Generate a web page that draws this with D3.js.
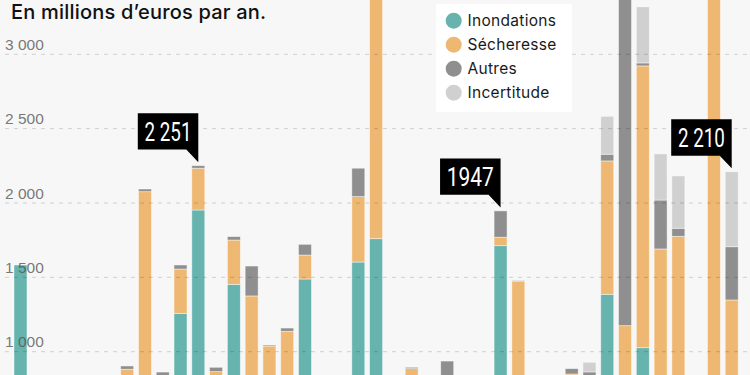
<!DOCTYPE html>
<html>
<head>
<meta charset="utf-8">
<script src="https://cdn.jsdelivr.net/npm/d3@7"></script>
<style>
  body { margin: 0; background: #f7f7f7; }
  svg { display: block; }
</style>
</head>
<body>
<div id="chart"></div>
<script>
// années 1983 -> 2023
var years = d3.range(1983, 2024);

// coût annuel par type de sinistre (millions d'euros)
var inondations = [1583, 260, 180, 320, 420, 610, 120, 150, 300, 1258, 1953, 400, 1453, 300, 250, 380, 1489, 520, 600, 1603,
                   1760, 350, 250, 300, 450, 480, 300, 1713, 200, 450, 650, 500, 400, 1386, 250, 1027, 200, 300, 500, 150, 200];
var secheresse  = [0, 0, 0, 0, 0, 0, 762, 1926, 480, 298, 281, 466, 298, 1075, 788, 757, 161, 90, 60, 440,
                   2100, 300, 636, 350, 200, 120, 250, 57, 1275, 250, 80, 350, 400, 897, 925, 1895, 1491, 1476, 200, 3500, 1148];
var autres      = [0, 20, 40, 30, 60, 40, 22, 18, 83, 27, 17, 29, 23, 201, 7, 22, 72, 60, 40, 191,
                   0, 50, 9, 40, 287, 60, 200, 177, 3, 40, 60, 36, 64, 45, 2600, 20, 329, 54, 60, 100, 358];
var incertitude = [0, 0, 0, 0, 0, 0, 0, 0, 0, 0, 0, 0, 0, 0, 0, 0, 0, 0, 0, 0,
                   0, 0, 0, 0, 0, 0, 0, 0, 0, 0, 0, 0, 65, 255, 0, 377, 310, 352, 50, 400, 504];

var keys = ["Inondations", "Sécheresse", "Autres", "Incertitude"];
var colours = ["#67b4ae", "#efb872", "#8f8f8f", "#d0d0d0"];
// seules les graduations visibles dans le cadre
var yTicks = [1000, 1500, 2000, 2500, 3000];

// étiquettes noires au-dessus de certaines barres
var annoYears = [1993, 2010, 2023];
var annoLabels = ["2 251", "1947", "2 210"];

var width = 750;
var height = 375;

var data = years.map(function(y, i) {
    return {
        year: y,
        "Inondations": inondations[i],
        "Sécheresse": secheresse[i],
        "Autres": autres[i],
        "Incertitude": incertitude[i]
    };
});

var svg = d3.select("#chart")
    .append("svg")
    .attr("width", width)
    .attr("height", height);

svg.append("rect")
    .attr("width", width)
    .attr("height", height)
    .attr("fill", "#f7f7f7");

var x = d3.scaleBand()
    .domain(years)
    .range([14, 738.2])
    .paddingInner(0.27)
    .paddingOuter(0);

// le zéro tombe sous le bas de l'image : le graphique est rogné
var y = d3.scaleLinear()
    .domain([0, 3000])
    .range([500.4, 54.3]);

var colour = d3.scaleOrdinal()
    .domain(keys)
    .range(colours);

var stacked = d3.stack().keys(keys)(data);

var layer = svg.selectAll(".layer")
    .data(stacked)
    .enter().append("g")
    .attr("class", "layer")
    .attr("fill", function(d) { return colour(d.key); });

layer.selectAll("rect")
    .data(function(d) { return d.filter(function(p) { return p[1] > p[0]; }); })
    .enter().append("rect")
    .attr("x", function(d) { return x(d.data.year); })
    .attr("y", function(d) { return y(d[1]); })
    .attr("width", x.bandwidth())
    .attr("height", function(d) { return y(d[0]) - y(d[1]); })
    .attr("stroke", "#ffffff")
    .attr("stroke-opacity", 0.55)
    .attr("stroke-width", 0.8);

// grille pointillée, par-dessus les barres
var grid = svg.append("g").attr("class", "grid");

grid.selectAll("line")
    .data(yTicks)
    .enter().append("line")
    .attr("x1", 5)
    .attr("x2", width)
    .attr("y1", function(d) { return y(d); })
    .attr("y2", function(d) { return y(d); })
    .attr("stroke", "#000")
    .attr("stroke-opacity", 0.16)
    .attr("stroke-dasharray", "4,5");

grid.selectAll("text")
    .data(yTicks)
    .enter().append("text")
    .attr("x", 5)
    .attr("y", function(d) { return y(d) - 4.5; })
    .attr("fill", "#555")
    .attr("fill-opacity", 0.8)
    .style("font-family", "'Liberation Sans', Arial, sans-serif")
    .style("font-size", "15.5px")
    .text(function(d) { return d3.format(",")(d).replace(/,/g, " "); });

// titre
svg.append("text")
    .attr("x", 11)
    .attr("y", 19)
    .attr("fill", "#111")
    .style("font-family", "Inter, sans-serif")
    .style("font-size", "20px")
    .style("font-weight", 500)
    .style("letter-spacing", "0.2px")
    .text("En millions d’euros par an.");

// légende
var legendBox = svg.append("g").attr("transform", "translate(436,4)");

legendBox.append("rect")
    .attr("width", 136)
    .attr("height", 108)
    .attr("fill", "#ffffff");

var legend = legendBox.selectAll(".legend")
    .data(keys)
    .enter().append("g")
    .attr("class", "legend")
    .attr("transform", function(d, i) { return "translate(0," + (16.7 + i * 24) + ")"; });

legend.append("circle")
    .attr("cx", 17.7)
    .attr("cy", 0)
    .attr("r", 8)
    .attr("fill", function(d) { return colour(d); });

legend.append("text")
    .attr("x", 31.5)
    .attr("y", 5.5)
    .attr("fill", "#1a1a1a")
    .style("font-family", "Inter, sans-serif")
    .style("font-size", "15.5px")
    .style("letter-spacing", "0.3px")
    .text(function(d) { return d; });

// bulles d'annotation
var annos = annoYears.map(function(yr, i) {
    var row = data[years.indexOf(yr)];
    var total = d3.sum(keys, function(k) { return row[k]; });
    return {
        tipX: x(yr) + x.bandwidth() / 2,
        tipY: y(total) - 3.5,
        label: annoLabels[i]
    };
});

var bubble = svg.selectAll(".anno")
    .data(annos)
    .enter().append("g")
    .attr("class", "anno");

bubble.append("path")
    .attr("fill", "#000")
    .attr("d", function(d) {
        var bottom = d.tipY - 12.6;
        var top = bottom - 36.4;
        return "M" + (d.tipX - 60.5) + "," + top +
            "H" + d.tipX +
            "V" + d.tipY +
            "L" + (d.tipX - 12) + "," + bottom +
            "H" + (d.tipX - 60.5) + "Z";
    });

bubble.append("text")
    .attr("x", function(d) { return d.tipX - 30.25; })
    .attr("y", function(d) { return d.tipY - 12.6 - 36.4 + 27.4; })
    .attr("text-anchor", "middle")
    .attr("fill", "#fff")
    .attr("textLength", 47)
    .attr("lengthAdjust", "spacingAndGlyphs")
    .style("font-family", "Roboto, sans-serif")
    .style("font-size", "25px")
    .text(function(d) { return d.label; });
</script>
</body>
</html>
